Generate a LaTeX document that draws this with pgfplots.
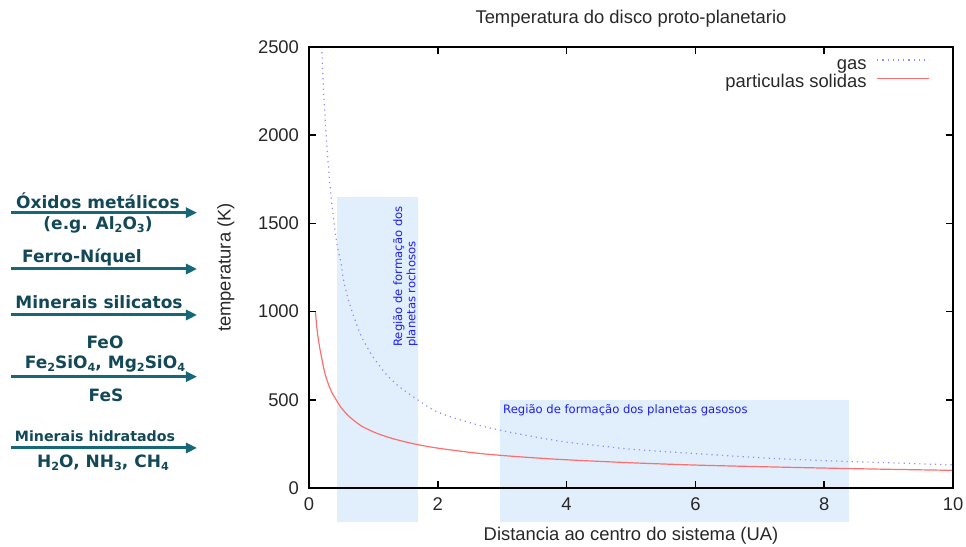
\documentclass[border=0pt]{standalone}
\usepackage{fontspec}
\setmainfont{Liberation Sans}
\newfontfamily\dejavu{DejaVu Sans}
\usepackage{pgfplots}
\pgfplotsset{compat=1.18}
\usetikzlibrary{arrows.meta}

\definecolor{gasline}{RGB}{140,140,255}
\definecolor{solidline}{RGB}{255,110,110}
\definecolor{zonefill}{RGB}{225,238,252}
\definecolor{zonetext}{RGB}{30,30,240}
\definecolor{labeltext}{RGB}{18,72,88}
\definecolor{labelarrow}{RGB}{22,104,120}
\definecolor{inktext}{RGB}{40,40,40}

% short line samples in the legend
\pgfplotsset{legend image code/.code={\draw[#1] (0bp,2.5bp) -- (26bp,2.5bp);}}

% chemical subscripts in the side labels
\newcommand{\sub}[1]{\raisebox{-0.3ex}{\fontsize{5.6bp}{6bp}\selectfont #1}}

\begin{document}
\begin{tikzpicture}
\useasboundingbox (0,0) rectangle (483bp,273.5bp);
\begin{axis}[
  at={(154.5bp,29.5bp)}, anchor=south west,
  scale only axis, width=322bp, height=220.5bp,
  xmin=0, xmax=10, ymin=0, ymax=2500,
  xtick={0,2,...,10}, ytick={0,500,...,2500},
  axis on top, clip=false,
  axis line style={line width=0.8bp, black},
  major tick style={line width=0.8bp, black},
  major tick length=3.5bp,
  tick align=inside,
  font=\fontsize{9.2bp}{11bp}\selectfont,
  ticklabel style={text=inktext, font=\fontsize{9.2bp}{11bp}\selectfont},
  /pgf/number format/assume math mode=true,
  /pgf/number format/set thousands separator={},
  scaled ticks=false,
  xticklabel style={yshift=-1.5bp},
  yticklabel style={xshift=-1.5bp},
  title={Temperatura do disco proto-planetario},
  title style={at={(axis description cs:0.5,1.036)}, anchor=center, text=inktext},
  xlabel={Distancia ao centro do sistema (UA)},
  xlabel style={at={(axis description cs:0.5,-0.109)}, anchor=center, text=inktext},
  ylabel={temperatura (K)},
  ylabel style={at={(axis description cs:-0.129,0.5)}, anchor=center, text=inktext},
  legend style={draw=none, fill=none, at={(axis description cs:0.964,0.98)},
    anchor=north east, inner sep=0pt, outer sep=0pt,
    font=\fontsize{9.2bp}{11bp}\selectfont, text=inktext,
    /tikz/column sep=5bp,
    nodes={inner sep=0pt, text height=6.7bp, text depth=2.4bp}},
  legend cell align=right, legend plot pos=right,
]
% formation zones
\fill[zonefill] (axis cs:0.43,-193) rectangle (axis cs:1.70,1650);
\fill[zonefill] (axis cs:2.97,-193) rectangle (axis cs:8.39,500);

\addplot[gasline, line width=0.6bp, dash pattern=on 0.6bp off 2bp, smooth]
  coordinates {
  (0.197,2500) (0.22,2300) (0.25,2100) (0.275,1950) (0.30,1830) (0.34,1660)
  (0.377,1540) (0.43,1390) (0.50,1270) (0.533,1185) (0.60,1080) (0.688,980)
  (0.80,870) (0.896,803) (1.0,740) (1.2,645) (1.4,575) (1.7,497) (2.0,430)
  (2.5,370) (2.91,332) (3.5,290) (4.0,260) (4.5,240) (5.0,220) (6.0,195)
  (7.0,172) (8.0,155) (9.0,143) (10.0,131)
  };
\addlegendentry{gas}
\addplot[solidline, line width=0.6bp, smooth]
  coordinates {
  (0.10,1000) (0.12,915) (0.15,830) (0.20,730) (0.25,645) (0.30,590)
  (0.35,545) (0.43,495) (0.50,455) (0.61,410) (0.70,382) (0.82,350)
  (1.0,318) (1.13,300) (1.3,280) (1.49,262) (1.7,245) (2.0,226) (2.5,202)
  (2.91,187) (3.5,171) (4.0,160) (5.0,143) (6.0,130) (7.0,121) (8.0,113)
  (9.0,106) (10.0,100)
  };
\addlegendentry{particulas solidas}

\node[rotate=90, anchor=north west, align=left, inner sep=0pt,
  font=\dejavu\fontsize{5.8bp}{6.6bp}\selectfont, text=zonetext]
  at (axis cs:1.30,799) {Região de formação dos\\planetas rochosos};
\node[anchor=base west, inner sep=0pt,
  font=\dejavu\fontsize{5.8bp}{6.6bp}\selectfont, text=zonetext]
  at (axis cs:3.01,425) {Região de formação dos planetas gasosos};
\end{axis}

% condensation sequence on the left, in pixel-like units from the top left
\begin{scope}[x=0.5bp, y=-0.5bp, shift={(0,273.5bp)},
  every node/.style={inner sep=0pt, anchor=base, text=labeltext,
    font=\dejavu\bfseries\fontsize{8.5bp}{10bp}\selectfont}]
  \foreach \yy in {212.7,269,315,376.7,448}
    \draw[labelarrow, line width=1.5bp, -{Triangle[length=5.5bp,width=5bp]}]
      (11,\yy) -- (197,\yy);
  \node at (98,209) {Óxidos metálicos};
  \node at (98,229.5) {(e.g. Al\sub{2}O\sub{3})};
  \node at (82,262.7) {Ferro-Níquel};
  \node at (99,309) {Minerais silicatos};
  \node at (105,349) {FeO};
  \node at (105,368.5) {Fe\sub{2}SiO\sub{4}, Mg\sub{2}SiO\sub{4}};
  \node at (106,402) {FeS};
  \node[font=\dejavu\bfseries\fontsize{7.1bp}{8.5bp}\selectfont] at (95,442) {Minerais hidratados};
  \node at (103,467.5) {H\sub{2}O, NH\sub{3}, CH\sub{4}};
\end{scope}
\end{tikzpicture}
\end{document}
